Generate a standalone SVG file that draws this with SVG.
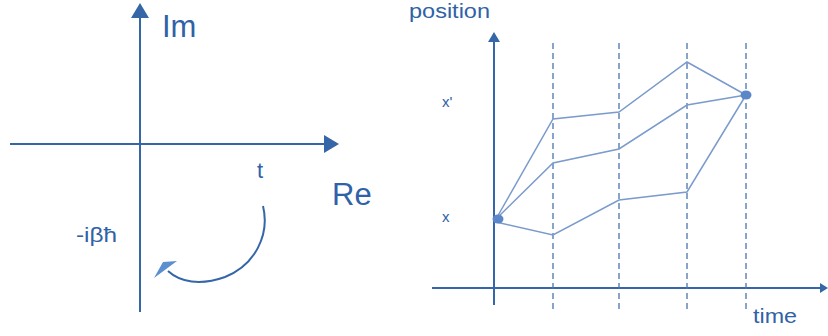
<svg xmlns="http://www.w3.org/2000/svg" width="828" height="336" viewBox="0 0 828 336">
<style>
.axis{stroke:#3566a8;stroke-width:2;fill:none}
.head{fill:#3566a8}
.dash{stroke:#4a74b0;stroke-width:1.3;stroke-dasharray:6,4;fill:none}
.traj{stroke:#7a9bcb;stroke-width:1.5;fill:none}
.lbl{font-family:"Liberation Sans",Arial,sans-serif;fill:#2f62a6}
.dot{fill:#5b87c8}
</style>
<rect width="828" height="336" fill="#ffffff"/>
<g id="left-plane">
<line class="axis" x1="140" y1="312" x2="140" y2="16"/>
<polygon class="head" points="140,3 131,18 149,18"/>
<line class="axis" x1="10" y1="144" x2="326" y2="144"/>
<polygon class="head" points="339,144 324,135 324,153"/>
<text class="lbl" x="162" y="37" font-size="31">Im</text>
<text class="lbl" x="332" y="205" font-size="31">Re</text>
<text class="lbl" x="257" y="178" font-size="22">t</text>
<text class="lbl" x="76" y="242" font-size="20" textLength="41" lengthAdjust="spacingAndGlyphs">-iβħ</text>
<path d="M263,206 C270,235 255,265 225,277 C200,286 180,282 168,271" fill="none" stroke="#3566a8" stroke-width="2"/>
<polygon points="154,278 177,261 163,262" fill="#5b8fcf"/>
</g>
<g id="right-plot">
<line class="axis" x1="494" y1="305" x2="494" y2="40"/>
<polygon class="head" points="494,32 488,42 500,42"/>
<line class="axis" x1="432" y1="288" x2="820" y2="288"/>
<polygon class="head" points="828,288 820,283 820,293"/>
<line class="dash" x1="553" y1="43" x2="553" y2="313"/>
<line class="dash" x1="619" y1="43" x2="619" y2="313"/>
<line class="dash" x1="687" y1="43" x2="687" y2="313"/>
<line class="dash" x1="746" y1="43" x2="746" y2="313"/>
<polyline class="traj" points="496,219 553,119 619,112 687,62 746,95"/>
<polyline class="traj" points="496,219 553,163 619,149 687,105 746,95"/>
<polyline class="traj" points="496,222 553,235 619,200 687,192 746,95"/>
<ellipse class="dot" cx="498" cy="219" rx="5.5" ry="4.5"/>
<ellipse class="dot" cx="746" cy="95" rx="5.5" ry="4.5"/>
<text class="lbl" x="409" y="18" font-size="20" textLength="81" lengthAdjust="spacingAndGlyphs">position</text>
<text class="lbl" x="753" y="323" font-size="21" textLength="44" lengthAdjust="spacingAndGlyphs">time</text>
<text class="lbl" x="442" y="107" font-size="15">x'</text>
<text class="lbl" x="442" y="222" font-size="15">x</text>
</g>
</svg>
